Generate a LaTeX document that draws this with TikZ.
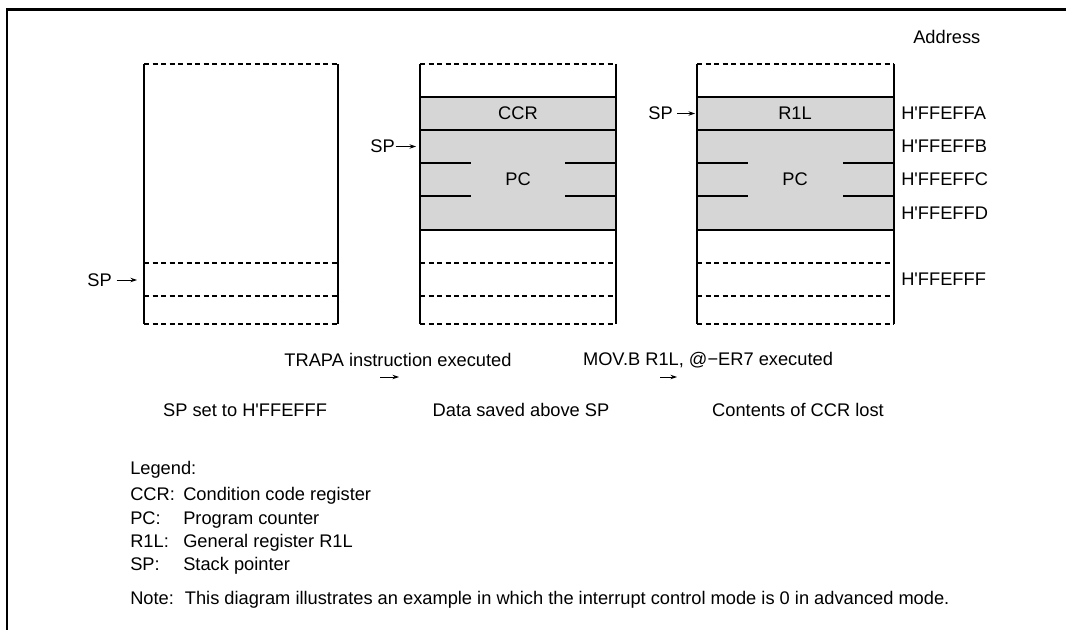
\documentclass[tikz,border=0pt]{standalone}
\usepackage{fontspec}
\setmainfont{Liberation Sans}
\usetikzlibrary{arrows.meta}
\definecolor{stackgray}{gray}{0.84}
\newcommand{\haddr}[1]{H\textquotesingle#1}
\tikzset{
  wall/.style={line width=2.2pt},
  cell/.style={line width=0.8pt},
  dashcell/.style={line width=0.8pt,dash pattern=on 3.8pt off 2.6pt},
  lbl/.style={inner sep=0pt,font=\fontsize{13.7}{16}\selectfont},
  ptr/.style={-{Stealth[length=5pt,width=3.4pt]},line width=0.7pt},
}
\begin{document}
\begin{tikzpicture}[x=0.75pt,y=-0.75pt]
\useasboundingbox (0,0) rectangle (1066,630);

% frame
\draw[line width=2.2pt] (7,630) -- (7,9.5) -- (1066,9.5);

% stack before TRAPA
\foreach \y in {64,263,296,324} \draw[dashcell] (144,\y) -- (338,\y);
\draw[wall] (144,64) -- (144,324);
\draw[wall] (338,64) -- (338,324);

% stacks after TRAPA and after MOV.B
\foreach \xl/\xr in {420/616,697/894} {
  \fill[stackgray] (\xl,97) rectangle (\xr,230);
  \foreach \y in {97,130,230} \draw[cell] (\xl,\y) -- (\xr,\y);
  \foreach \y in {163,196} {
    \draw[cell] (\xl,\y) -- ++(51,0);
    \draw[cell] (\xr,\y) -- ++(-51,0);
  }
  \foreach \y in {64,263,296,324} \draw[dashcell] (\xl,\y) -- (\xr,\y);
  \draw[wall] (\xl,64) -- (\xl,324);
  \draw[wall] (\xr,64) -- (\xr,324);
}

% register contents
\node[lbl] (ccr) at (518,113.5) {CCR};
\node[lbl] (pcb) at (518,179.5) {PC};
\node[lbl] (r1l) at (795,113.5) {R1L};
\node[lbl] (pcc) at (795,179.5) {PC};

% addresses
\node[lbl,anchor=west] (addr) at (913,37) {Address};
\node[lbl,anchor=west] (fa) at (901,113.5) {\haddr{FFEFFA}};
\node[lbl,anchor=west] (fb) at (901,146.5) {\haddr{FFEFFB}};
\node[lbl,anchor=west] (fc) at (901,179.5) {\haddr{FFEFFC}};
\node[lbl,anchor=west] (fd) at (901,213) {\haddr{FFEFFD}};
\node[lbl,anchor=west] (ff) at (901,279.5) {\haddr{FFEFFF}};

% stack pointers
\node[lbl,anchor=east] (spa) at (112,280) {SP};
\coordinate (spa tip) at (137,280);
\draw[ptr] ([xshift=3.5pt]spa.east) -- (spa tip);
\node[lbl,anchor=east] (spb) at (395,146.5) {SP};
\coordinate (spb tip) at (416,146.5);
\draw[ptr] ([xshift=0.5pt]spb.east) -- (spb tip);
\node[lbl,anchor=east] (spc) at (673,113.5) {SP};
\coordinate (spc tip) at (695,113.5);
\draw[ptr] ([xshift=3pt]spc.east) -- (spc tip);

% transitions
\node[lbl] (trapa) at (398,360) {TRAPA instruction executed};
\coordinate (trapa from) at (380,377);
\coordinate (trapa to) at (399,377);
\draw[ptr] (trapa from) -- (trapa to);
\node[lbl] (movb) at (708,360) {MOV.B R1L, @−ER7 executed};
\coordinate (movb from) at (660,377);
\coordinate (movb to) at (677,377);
\draw[ptr] (movb from) -- (movb to);

% captions
\node[lbl] (capa) at (245,410) {SP set to \haddr{FFEFFF}};
\node[lbl] (capb) at (521,410) {Data saved above SP};
\node[lbl] (capc) at (798,410) {Contents of CCR lost};

% legend
\node[lbl,anchor=base west] (leg) at (130,474) {Legend:};
\node[lbl,anchor=base west] (lccr) at (130,500.5) {CCR:};
\node[lbl,anchor=base west] at (183,500.5) {Condition code register};
\node[lbl,anchor=base west] (lpc) at (130,524.5) {PC:};
\node[lbl,anchor=base west] at (183,524.5) {Program counter};
\node[lbl,anchor=base west] (lr1l) at (130,547.5) {R1L:};
\node[lbl,anchor=base west] at (183,547.5) {General register R1L};
\node[lbl,anchor=base west] (lsp) at (130,570.5) {SP:};
\node[lbl,anchor=base west] at (183,570.5) {Stack pointer};
\node[lbl,anchor=base west] (note) at (130,604.5)
  {Note:\hspace{0.6em}This diagram illustrates an example in which the interrupt control mode is 0 in advanced mode.};
\end{tikzpicture}
\end{document}
